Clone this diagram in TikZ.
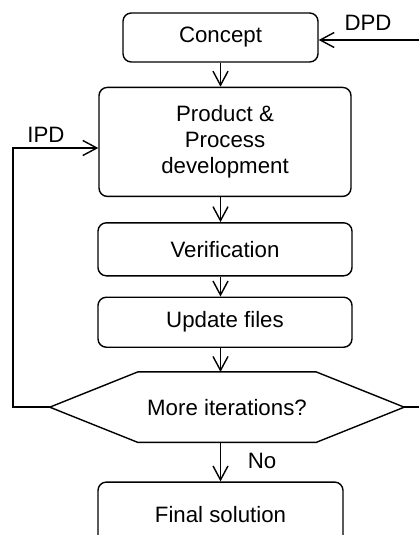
\documentclass[tikz,border=0pt]{standalone}
\usepackage{fontspec}
\setmainfont{Liberation Sans}
\usetikzlibrary{arrows.meta, positioning, calc}
\tikzset{
  stepbox/.style={rectangle, draw, line width=1.2pt, rounded corners=0.25cm, align=center, inner sep=0pt, font=\fontsize{19}{22}\selectfont},
  decision/.style={rectangle, inner sep=0pt, align=center, font=\fontsize{19}{22}\selectfont},
  tag/.style={inner sep=0pt, font=\fontsize{19}{22}\selectfont},
  arrow/.style={-{Straight Barb[length=0.42cm, width=0.45cm]}, line width=1.2pt},
  flowline/.style={line width=1.2pt},
}
\begin{document}
\begin{tikzpicture}[node distance=0.7cm]
\useasboundingbox (0,0) rectangle (12.57,-16.05);
\clip (0,0) rectangle (12.57,-16.05);
\node (concept) [stepbox, minimum width=5.85cm, minimum height=1.47cm] at (6.615,-1.125) {Concept};
\node (ppd) [stepbox, minimum width=7.56cm, minimum height=3.27cm, below=0.72cm of concept, xshift=0.135cm] {Product \&\\Process\\development};
\node (verif) [stepbox, minimum width=7.62cm, minimum height=1.59cm, below=0.75cm of ppd] {Verification};
\node (update) [stepbox, minimum width=7.62cm, minimum height=1.5cm, below=0.6cm of verif] {Update files};
\node (iter) [decision, minimum width=10.62cm, minimum height=2.1cm, below=0.72cm of update, xshift=0.06cm] {More iterations?};
\node (final) [stepbox, minimum width=7.35cm, minimum height=1.92cm, below=1.17cm of iter, xshift=-0.195cm] {Final solution};
% hexagon round the decision
\draw[flowline] (iter.west) -- ([xshift=2.64cm]iter.north west) -- ([xshift=-2.64cm]iter.north east)
  -- (iter.east) -- ([xshift=-2.64cm]iter.south east) -- ([xshift=2.64cm]iter.south west) -- cycle;
% loose ends
\coordinate (dpd) at (12.57,-1.2);
\coordinate (ipd) at (0.39,-4.44);
\node (dpdlab) [tag] at (11.04,-0.69) {DPD};
\node (ipdlab) [tag] at (1.38,-4.05) {IPD};
\node (nolab) [tag] at (7.86,-13.83) {No};
% main flow
\draw[arrow] (concept.south) -- (concept.south |- ppd.north);
\draw[arrow] (concept.south |- ppd.south) -- (concept.south |- verif.north);
\draw[arrow] (concept.south |- verif.south) -- (concept.south |- update.north);
\draw[arrow] (concept.south |- update.south) -- (concept.south |- iter.north);
\draw[arrow] (concept.south |- iter.south) -- (concept.south |- final.north);
\draw[arrow] (dpd) -- (dpd -| concept.east);
\draw[arrow] (iter.west) -- (iter.west -| ipd) -- (ipd) -- (ipd -| ppd.west);
\draw[flowline] (iter.east) -- (iter.east -| dpd);
\end{tikzpicture}
\end{document}
